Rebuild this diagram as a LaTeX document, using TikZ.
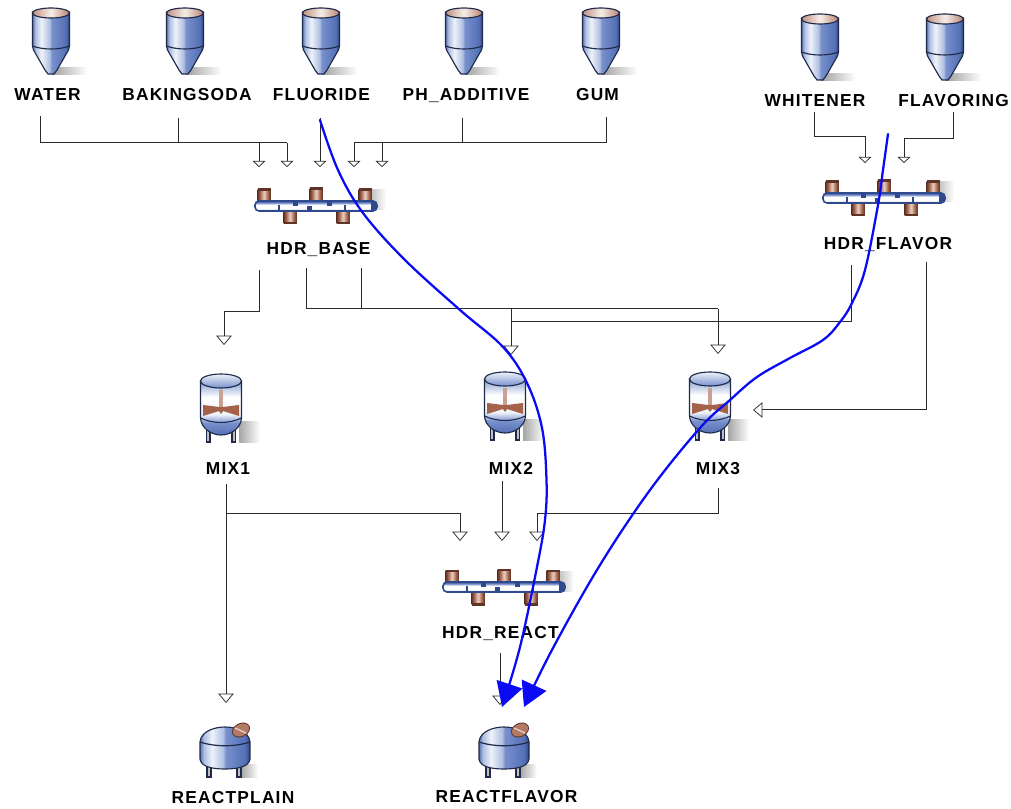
\documentclass[tikz,border=0pt]{standalone}
\usepackage{fontspec}
\setmainfont{Liberation Sans}
\newfontfamily\lblfont[LetterSpace=7]{Liberation Sans}
\usetikzlibrary{arrows.meta}
\definecolor{wireC}{HTML}{2A2A2A}
\definecolor{flowC}{HTML}{0A0AF5}
\definecolor{edgeC}{HTML}{1F2A4A}
\definecolor{copperC}{HTML}{A5624A}
\definecolor{copperL}{HTML}{EBD5C8}
\definecolor{copperD}{HTML}{5E3426}
\definecolor{barD}{HTML}{2F4A8C}
\definecolor{tankA}{HTML}{5A76B0}
\definecolor{tankB}{HTML}{EEF2FA}
\definecolor{tankC}{HTML}{AFC0E2}
\definecolor{tankD}{HTML}{7890CC}
\definecolor{tankE}{HTML}{5470B6}
\definecolor{tankF}{HTML}{2F4680}
\pgfdeclarehorizontalshading{tankS}{100bp}{color(0bp)=(tankA);color(25bp)=(tankA);color(29bp)=(tankC);color(37bp)=(tankB);color(48bp)=(tankC);color(51bp)=(tankD);color(70bp)=(tankE);color(75bp)=(tankF);color(100bp)=(tankF)}
\pgfdeclareverticalshading{vesselS}{100bp}{color(0bp)=(tankE);color(25bp)=(tankE);color(36bp)=(tankD);color(44bp)=(tankB);color(60bp)=(white);color(70bp)=(tankC);color(75bp)=(tankD);color(100bp)=(tankD)}
\pgfdeclareverticalshading{barS}{100bp}{color(0bp)=(barD);color(25bp)=(barD);color(36bp)=(white);color(56bp)=(white);color(66bp)=(tankD);color(75bp)=(barD);color(100bp)=(barD)}
\pgfdeclarehorizontalshading{pipeS}{100bp}{color(0bp)=(copperD);color(25bp)=(copperD);color(35bp)=(copperC);color(50bp)=(copperL);color(65bp)=(copperC);color(75bp)=(copperD);color(100bp)=(copperD)}
\tikzset{
  lbl/.style={font=\lblfont\bfseries\fontsize{13pt}{14pt}\selectfont,text=black,inner sep=0pt,anchor=center,text height=9.3pt,text depth=0pt},
  wire/.style={draw=wireC,line width=0.75pt},
  tipS/.style={wire,-{Triangle[open,fill=white,length=4.6pt,width=9.8pt,line width=0.55pt]}},
  tipL/.style={wire,-{Triangle[open,fill=white,length=7pt,width=11.6pt,line width=0.55pt]}},
  flow/.style={draw=flowC,line width=1.7pt,line cap=round,-{Triangle[length=18pt,width=20pt,fill=flowC]}},
  tankedge/.style={draw=edgeC,line width=0.85pt},
  softshadow/.style={left color=gray!75,right color=white,draw=none},
  pipeup/.pic={\fill[shading=pipeS] (-6.5,-6.5) rectangle (6.5,6.5);
               \fill[copperD] (-6.5,-7.5) rectangle (6.5,-5);},
  silo/.pic={
    \fill[softshadow] (1,60) rectangle (36,67);
    \path[tankedge,shading=tankS] (-18.5,4) -- (-18.5,38) -- (-17.5,42) -- (-6,62) -- (-3,66) -- (3,66) -- (6,62) -- (17.5,42) -- (18.5,38) -- (18.5,4) -- cycle;
    \draw[edgeC,line width=0.85pt] (-18.5,38) .. controls (-8,42) and (8,42) .. (18.5,38);
    \draw[left color=copperC!70,right color=copperC!80,middle color=copperL!40,draw=edgeC,line width=0.85pt] (0,5) ellipse [x radius=18.5,y radius=5];
  },
  header/.pic={
    \fill[left color=gray!45,right color=white,draw=none] (56,-16) rectangle (70,4);
    \pic at (-52,-10) {pipeup};
    \pic at (0,-11) {pipeup};
    \pic at (49,-10) {pipeup};
    \pic[yscale=-1] at (-26,11) {pipeup};
    \pic[yscale=-1] at (27,11) {pipeup};
    \path[draw=barD,line width=1.2pt,shading=barS,rounded corners=3pt] (-61,-5) rectangle (61,5);
    \fill[barD] (-23,-5) rectangle (-18,0);
    \fill[barD] (-9,0) rectangle (-4,5);
    \fill[barD] (11,-5) rectangle (16,0);
    \fill[barD] (-38,-1) rectangle (-36.5,5);
    \fill[barD] (28,-1) rectangle (29.5,5);
    \fill[barD] (55,-4) rectangle (61,4);
    \fill[white] (-58,0) circle [radius=1.7];
  },
  mixer/.pic={
    \fill[softshadow,left color=gray!70] (18,48) rectangle (39,68);
    \fill[gray!50] (-14.5,52) rectangle (-11,68);
    \fill[gray!50] (11,52) rectangle (14.5,68);
    \draw[edgeC,line width=0.8pt] (-14.5,52) -- (-14.5,68) -- (-11,68) -- (-11,52) (11,52) -- (11,68) -- (14.5,68) -- (14.5,52);
    \path[tankedge,shading=vesselS] (-20.5,7) -- (-20.5,44) .. controls (-20,54) and (-10,61) .. (0,61) .. controls (10,61) and (20,54) .. (20.5,44) -- (20.5,7) -- cycle;
    \fill[copperC!60!white] (-2,16) rectangle (2,38);
    \fill[copperC] (-2,33) -- (-18,31) -- (-18,42) -- (-2,37) -- (0,40) -- (2,37) -- (18,42) -- (18,31) -- (2,33) -- cycle;
    \draw[edgeC,line width=0.8pt] (-20.5,44) .. controls (-8,50) and (8,50) .. (20.5,44);
    \draw[top color=tankB,bottom color=tankD,draw=edgeC,line width=0.85pt] (0,7) ellipse [x radius=20.5,y radius=7];
  },
  reactor/.pic={
    \fill[softshadow,left color=gray!70] (16,37) rectangle (33,50);
    \fill[gray!50] (-18,38) rectangle (-14,50);
    \fill[gray!50] (12,38) rectangle (16,50);
    \draw[edgeC,line width=0.8pt] (-18,38) -- (-18,50) -- (-14,50) -- (-14,38) (12,38) -- (12,50) -- (16,50) -- (16,38);
    \path[tankedge,shading=tankS] (-25,15) .. controls (-24,4) and (-10,0) .. (0,0) .. controls (10,0) and (24,4) .. (25,15) -- (25,32) .. controls (24,40) and (12,42) .. (0,42) .. controls (-12,42) and (-24,40) .. (-25,32) -- cycle;
    \draw[edgeC,line width=0.9pt] (-25,15) .. controls (-10,20) and (10,20) .. (25,15);
    \draw[copperD,fill=copperC!85,line width=0.6pt,rotate around={25:(16,3)}] (16,3) ellipse [x radius=9,y radius=6.5];
    \draw[copperL,line width=0.9pt] (10,1) -- (21,6);
  },
}
\begin{document}
\begin{tikzpicture}[x=0.75pt,y=-0.75pt]
\useasboundingbox (0,0) rectangle (1011,809);
\fill[white] (0,0) rectangle (1011,809);

% icons
\pic (iWater) at (51,8) {silo};
\pic (iSoda) at (185,8) {silo};
\pic (iFluoride) at (321,8) {silo};
\pic (iPh) at (464,8) {silo};
\pic (iGum) at (601,8) {silo};
\pic (iWhite) at (820,14) {silo};
\pic (iFlav) at (945,14) {silo};
\pic (iHB) at (316,206) {header};
\pic (iHF) at (884,198) {header};
\pic (iHR) at (504,587) {header};
\pic (iM1) at (221,374) {mixer};
\pic (iM2) at (505,372) {mixer};
\pic (iM3) at (710,372) {mixer};
\pic (iR1) at (225,727) {reactor};
\pic (iR2) at (504,727) {reactor};

% labels
\node[lbl] (water) at (47.5,94) {WATER};
\node[lbl] (soda) at (187,94) {BAKINGSODA};
\node[lbl] (fluoride) at (321.5,94) {FLUORIDE};
\node[lbl] (ph) at (466,94) {PH\_ADDITIVE};
\node[lbl] (gum) at (597.5,94) {GUM};
\node[lbl] (whitener) at (815,100) {WHITENER};
\node[lbl] (flavoring) at (953.5,100) {FLAVORING};
\node[lbl] (hdrbase) at (318.5,248) {HDR\_BASE};
\node[lbl] (hdrflavor) at (888,243) {HDR\_FLAVOR};
\node[lbl] (mix1) at (228,468) {MIX1};
\node[lbl] (mix2) at (511,468) {MIX2};
\node[lbl] (mix3) at (718,468) {MIX3};
\node[lbl] (hdrreact) at (500.5,632) {HDR\_REACT};
\node[lbl] (reactplain) at (233,797) {REACTPLAIN};
\node[lbl] (reactflavor) at (506.5,796) {REACTFLAVOR};

% connector end points
\coordinate (wa) at (40,116);
\coordinate (so) at (178,118);
\coordinate (fl) at (320,118);
\coordinate (pa) at (462,118);
\coordinate (gu) at (606,117);
\coordinate (wh) at (814,112);
\coordinate (fv) at (953,112);
\coordinate (hb1) at (259,270);
\coordinate (hb2) at (306,268);
\coordinate (hb3) at (361,268);
\coordinate (hf1) at (851,265);
\coordinate (hf2) at (926,262);
\coordinate (m1) at (226,484);
\coordinate (m2) at (502,481);
\coordinate (m3) at (718,488);
\coordinate (hr) at (500,653);
\coordinate (inB1) at (259,167);
\coordinate (inB2) at (287,167);
\coordinate (inB3) at (320,167);
\coordinate (inB4) at (354,167);
\coordinate (inB5) at (382,167);
\coordinate (inF1) at (865,163);
\coordinate (inF2) at (904,163);
\coordinate (inM1) at (224,345);
\coordinate (inM2) at (511,355);
\coordinate (inM3a) at (718,354);
\coordinate (inM3b) at (753,410);
\coordinate (inR1) at (460,541);
\coordinate (inR2) at (502,541);
\coordinate (inR3) at (537,541);
\coordinate (inP) at (226,703);
\coordinate (inRF) at (500,705);
\coordinate (j1) at (511,309);
\coordinate (j2) at (718,322);
\coordinate (j3) at (226,513);
\coordinate (busY) at (0,143);
\coordinate (busM) at (0,309);

% base feed bus
\draw[wire] (wa) |- (inB2 |- busY);
\draw[wire] (so) -- (so |- busY);
\draw[wire] (gu) |- (inB4 |- busY);
\draw[wire] (pa) -- (pa |- busY);
\draw[tipS] (inB1 |- busY) -- (inB1);
\draw[tipS] (inB2 |- busY) -- (inB2);
\draw[tipS] (fl) -- (inB3);
\draw[tipS] (inB4 |- busY) -- (inB4);
\draw[tipS] (inB5 |- busY) -- (inB5);
% flavor feeds
\draw[tipS] (wh) |- (865,137) -- (inF1);
\draw[tipS] (fv) |- (904,139) -- (inF2);
% to mixers
\draw[tipL] (hb1) |- (224,312) -- (inM1);
\draw[wire] (hb2) |- (inM3a |- busM);
\draw[wire] (hb3) -- (hb3 |- busM);
\draw[tipL] (j1) -- (inM2);
\draw[tipL] (inM3a |- busM) -- (inM3a);
\draw[wire] (hf1) |- (j1 |- j2);
\draw[tipL] (hf2) |- (inM3b);
% to reactor header
\draw[tipL] (m1) -- (inP);
\draw[wire] (j3) -| (460,531);
\draw[tipL] (460,513) -- (inR1);
\draw[tipL] (m2) -- (inR2);
\draw[wire] (m3) |- (537,513);
\draw[tipL] (537,513) -- (inR3);
\draw[tipL] (hr) -- (inRF);

% flavour flows
\coordinate (f1s) at (320,120);
\coordinate (f1e) at (502,707);
\coordinate (f2s) at (888,134);
\coordinate (f2e) at (524,707);
\draw[flow] plot[smooth,tension=0.6] coordinates {(f1s) (338,170) (363,213) (405,260) (460,310) (503,347) (527,383) (542,428) (546.5,480) (545,520) (537,567) (520,647) (f1e)};
\draw[flow] plot[smooth,tension=0.6] coordinates {(f2s) (883,170) (878,205) (865,270) (852,303) (840,322) (823,340) (790,358) (757,377) (730,400) (700,428) (650,490) (600,565) (553,648) (f2e)};
\end{tikzpicture}
\end{document}
